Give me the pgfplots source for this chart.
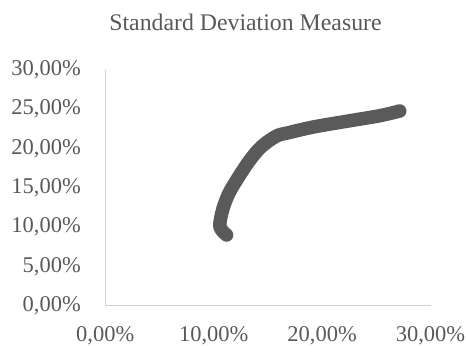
\documentclass[border=0pt]{standalone}
\usepackage{pgfplots}
\pgfplotsset{compat=1.18}
\usepackage{fontspec}
\setmainfont{Liberation Serif}

\definecolor{txtgray}{HTML}{595959}
\definecolor{axgray}{HTML}{D0D0D0}
\definecolor{curve}{HTML}{5A5A5A}

\begin{document}
\begin{tikzpicture}
\begin{axis}[
  name=ax,
  scale only axis,
  width=325.2bp, height=235.7bp,
  xmin=0, xmax=30, ymin=0, ymax=30,
  xtick={0,10,20,30},
  ytick={0,5,10,15,20,25,30},
  axis x line*=bottom,
  axis y line*=left,
  axis line style={axgray, line width=1bp, -},
  major tick length=0pt,
  /pgf/number format/assume math mode=true,
  xticklabel={\pgfmathprintnumber[fixed,fixed zerofill,precision=2,use comma]{\tick}\%},
  yticklabel={\pgfmathprintnumber[fixed,fixed zerofill,precision=2,use comma]{\tick}\%},
  xticklabel style={anchor=base, inner sep=0pt, yshift=-36bp,
    font=\fontsize{22.5bp}{27bp}\selectfont, text=txtgray},
  yticklabel style={anchor=base east, inner sep=0pt, xshift=-24.3bp, yshift=-5.7bp,
    font=\fontsize{22.5bp}{27bp}\selectfont, text=txtgray},
  clip=false,
]
\addplot[curve, line width=13.5bp, line cap=round, line join=round, smooth, tension=0.5]
  coordinates {
  (11.19, 9.00)
  (10.57,10.06)
  (10.82,12.18)
  (11.40,14.30)
  (12.30,16.40)
  (13.34,18.54)
  (14.40,20.24)
  (15.80,21.60)
  (17.00,22.05)
  (19.17,22.74)
  (22.25,23.47)
  (25.32,24.18)
  (27.16,24.78)
  };
\end{axis}
\node[anchor=base, inner sep=0pt, text=txtgray, font=\fontsize{23.8bp}{28bp}\selectfont]
  at ([xshift=-22.4bp,yshift=39.3bp]ax.north) {Standard Deviation Measure};
\path[use as bounding box] ([xshift=-105.3bp,yshift=-39.3bp]ax.south west)
  rectangle ([xshift=35.5bp,yshift=70bp]ax.north east);
\end{tikzpicture}
\end{document}
